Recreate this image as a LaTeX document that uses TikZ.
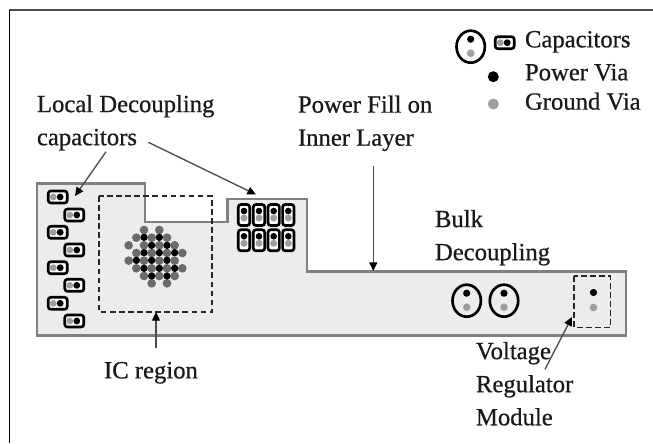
\documentclass[tikz,border=0pt]{standalone}
\usepackage{fontspec}
\setmainfont[FakeBold=0.6]{Liberation Serif}
\usetikzlibrary{arrows.meta}
\definecolor{boardfill}{gray}{0.925}
\definecolor{boardline}{gray}{0.5}
\definecolor{viagrey}{gray}{0.62}
\definecolor{clustergrey}{gray}{0.42}
\definecolor{leadcol}{gray}{0.3}
\definecolor{inkcol}{gray}{0.1}
\tikzset{
  lbl/.style={anchor=north west,inner sep=0pt,outer sep=0pt,align=left,text=inkcol,
    font=\fontsize{18.5}{24.8}\selectfont},
  lead/.style={draw=leadcol,line width=1pt,-{Triangle[length=6.5pt,width=6pt,color=black]}},
  capbox/.style={draw=black,line width=2pt,fill=white,rounded corners=2pt},
  pv/.style={fill=black},
  gv/.style={fill=viagrey},
  dashbox/.style={draw=black!85,line width=1.4pt,dash pattern=on 4.2pt off 2.6pt},
  bulkcap/.style={draw=black,line width=2pt,fill=none}
}
\newcommand{\hcapat}[2]{%
  \draw[capbox] (#1-9.5,#2-6) rectangle (#1+9.5,#2+6);
  \fill[gv] (#1-4.5,#2) circle (3.4);
  \fill[pv] (#1+2.5,#2) circle (3.4);}
\newcommand{\vcapat}[2]{%
  \draw[capbox] (#1-5.7,#2-10.5) rectangle (#1+5.7,#2+10.5);
  \fill[gv] (#1,#2+3) circle (3.5);
  \fill[pv] (#1,#2-4) circle (3.3);}
\newcommand{\bulkat}[2]{%
  \draw[bulkcap] (#1,#2) ellipse (14.2 and 16);
  \fill[pv] (#1,#2-7.5) circle (3.6);
  \fill[gv] (#1,#2+6.5) circle (3.8);}
\begin{document}
\begin{tikzpicture}[x=0.75pt,y=-0.75pt]
\useasboundingbox (0,0) rectangle (653,443);
\fill[white] (0,0) rectangle (653,443);
% frame
\draw[draw=leadcol,line width=1.5pt] (9,9.5) -- (653,9.5);
\draw[draw=black,line width=1.3pt] (9.5,9.5) -- (9.5,443);
% board
\draw[fill=boardfill,draw=boardline,line width=1.8pt]
  (37,183.5) -- (145,183.5) -- (145,222) -- (227.5,222) -- (227.5,199) -- (307,199)
  -- (307,271.5) -- (626,271.5) -- (626,335.5) -- (37,335.5) -- cycle;
% dashed regions
\draw[dashbox] (99,196) rectangle (212,312);
\draw[dashbox] (574,276) rectangle (610.5,327.5);
% local caps
\foreach \cy in {197,232.3,267.7,303.3} {\hcapat{57.7}{\cy}}
\foreach \cy in {215,250,285.3,321} {\hcapat{74.3}{\cy}}
% via cluster
\begin{scope}[shift={(20,170)},x=0.25pt,y=-0.25pt]
\foreach \X/\Y in {372/180,418/180,349/203,395/203,441/203,326/226,372/226,418/226,464/226,
   349/249,395/249,441/249,487/249,326/272,372/272,418/272,464/272,349/295,395/295,441/295,487/295,
   372/318,418/318,464/318,395/340,441/340}
  \fill[clustergrey] (\X,\Y) circle (13);
\foreach \X/\Y in {372/202,418/202,395/226,441/226,372/248,418/248,464/248,349/271,395/271,441/271,
   372/295,418/295,464/295,395/318,441/318}
  \fill[black] (\X,\Y) circle (11);
\end{scope}
% decoupling caps array
\foreach \cx in {244,259,273.7,288.3} {\vcapat{\cx}{215}\vcapat{\cx}{240.3}}
% bulk
\bulkat{466.7}{300.7}
\bulkat{504}{300.7}
\fill[pv] (593.5,292.5) circle (3.6);
\fill[gv] (593.5,307.5) circle (3.8);
% legend
\bulkat{470.7}{46.7}
\hcapat{504.7}{42.7}
\fill[pv] (493.3,76.7) circle (5.5);
\fill[gv] (493.3,104) circle (5.5);
% labels
\node[lbl] (legcap) at (525,31) {Capacitors};
\node[lbl] (legpow) at (525,64) {Power Via};
\node[lbl] (leggnd) at (525,92.5) {Ground Via};
\node[lbl] (local) at (37,95) {Local Decoupling\\capacitors};
\node[lbl] (fill) at (298,95.5) {Power Fill on\\Inner Layer};
\node[lbl] (bulk) at (435,210) {Bulk\\Decoupling};
\node[lbl] (ic) at (104,362) {IC region};
\node[lbl] (vrm) at (476,342) {Voltage\\Regulator\\Module};
% leaders
\coordinate (t1) at (75,196);
\coordinate (t2) at (256,194.5);
\coordinate (t3) at (373.3,271);
\coordinate (t4) at (156,312);
\coordinate (t5) at (572,317);
\coordinate (s1) at (106,151.7);
\coordinate (s2) at (148.3,142.3);
\coordinate (s3) at (373.3,166);
\coordinate (s4) at (156,348);
\coordinate (s5) at (545,369.3);
\draw[lead] (s1) -- (t1);
\draw[lead] (s2) -- (t2);
\draw[lead] (s3) -- (t3);
\draw[lead] (s4) -- (t4);
\draw[lead] (s5) -- (t5);
\end{tikzpicture}
\end{document}
